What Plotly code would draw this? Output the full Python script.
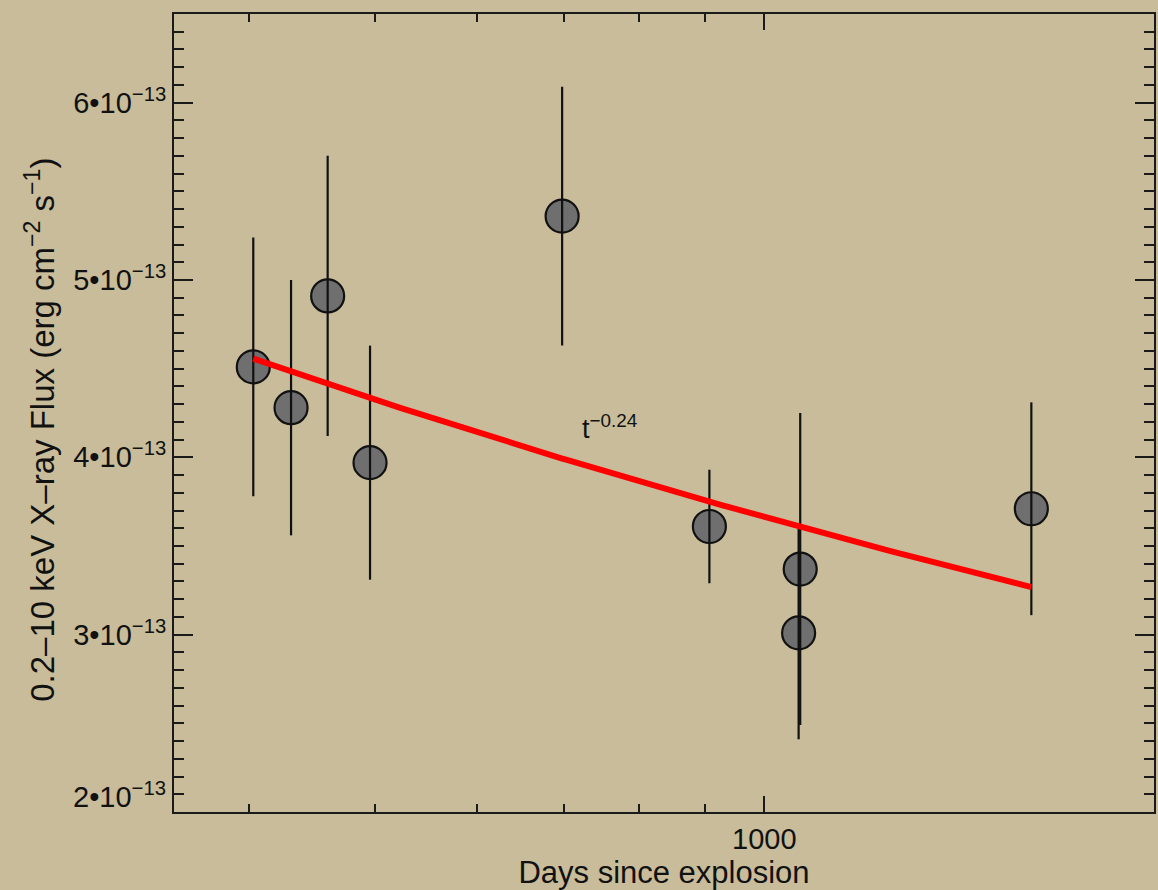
import numpy as np
import plotly.graph_objects as go

# Observations: days since explosion, 0.2-10 keV flux (units of 1e-13 erg/cm^2/s), 1-sigma errors
days = [403, 431, 460, 496, 698, 907, 1066, 1063, 1608]
flux_e13 = [4.51, 4.28, 4.91, 3.97, 5.36, 3.61, 3.37, 3.01, 3.71]
err_e13 = [0.73, 0.72, 0.79, 0.66, 0.73, 0.32, 0.88, 0.60, 0.60]

# Power-law decline fit F = NORM * t^INDEX
FIT_INDEX = -0.24
FIT_NORM = 1.9225e-12

y_tick_vals = [2e-13, 3e-13, 4e-13, 5e-13, 6e-13]
y_tick_text = ["", "3•10<sup>−13</sup>", "4•10<sup>−13</sup>", "5•10<sup>−13</sup>", "6•10<sup>−13</sup>"]
x_tick_vals = [1000]
x_tick_text = ["1000"]
x_minor_vals = [400, 500, 600, 700, 800, 900, 2000]

flux = [f * 1e-13 for f in flux_e13]
err = [e * 1e-13 for e in err_e13]

t_fit = np.geomspace(min(days), max(days), 200)
f_fit = FIT_NORM * t_fit ** FIT_INDEX

FONT = "Helvetica, 'Liberation Sans', Arial, sans-serif"
BG = "rgb(200,188,154)"
INK = "#111111"
AX = "#1a1a1a"

fig = go.Figure()

# filled circles
fig.add_trace(go.Scatter(
    x=days, y=flux, mode="markers",
    marker=dict(size=33, color="#6f6f6f", line=dict(color=INK, width=2.2)),
    showlegend=False, hoverinfo="skip",
))
# error bars drawn over the circles
fig.add_trace(go.Scatter(
    x=days, y=flux, mode="markers",
    marker=dict(size=1, color="rgba(0,0,0,0)"),
    error_y=dict(type="data", array=err, visible=True, color=INK, thickness=2.2, width=0),
    showlegend=False, hoverinfo="skip",
))
# power-law fit
fig.add_trace(go.Scatter(
    x=t_fit, y=f_fit, mode="lines",
    line=dict(color="#ff0000", width=6),
    showlegend=False, hoverinfo="skip",
))

fig.add_annotation(
    x=np.log10(760), y=4.17e-13, xref="x", yref="y",
    text="t<sup>−0.24</sup>", showarrow=False,
    font=dict(family=FONT, size=27, color=INK),
)
# bottom y label sits slightly above its tick
fig.add_annotation(
    x=0, y=2e-13, xref="paper", yref="y", xanchor="right", yanchor="middle",
    xshift=-6, yshift=17,
    text="2•10<sup>−13</sup>", showarrow=False,
    font=dict(family=FONT, size=29, color=INK),
)
# y-axis title, centred a little below the middle of the frame
fig.add_annotation(
    x=-0.1367, y=0.479, xref="paper", yref="paper", xanchor="center", yanchor="middle",
    textangle=-90,
    text="0.2–10 keV X–ray Flux (erg cm<sup>−2</sup> s<sup>−1</sup>)", showarrow=False,
    font=dict(family=FONT, size=33, color=INK),
)

axis_common = dict(
    showline=True, linecolor=AX, linewidth=2, mirror="allticks",
    ticks="inside", tickcolor=AX, tickwidth=1.6,
    showgrid=False, zeroline=False, automargin=False,
)

fig.update_xaxes(
    type="log", range=[np.log10(350), np.log10(2000)],
    tickvals=x_tick_vals, ticktext=x_tick_text, ticklen=16,
    minor=dict(tickvals=x_minor_vals, ticks="inside", ticklen=8, tickcolor=AX, tickwidth=1.6, showgrid=False),
    tickfont=dict(family=FONT, size=29, color=INK),
    title=dict(text="Days since explosion", font=dict(family=FONT, size=31, color=INK), standoff=1),
    **axis_common,
)
fig.update_yaxes(
    range=[2e-13, 6.5e-13],
    tickvals=y_tick_vals, ticktext=y_tick_text, ticklen=19,
    minor=dict(dtick=1e-14, tick0=0, ticks="inside", ticklen=10, tickcolor=AX, tickwidth=1.6, showgrid=False),
    tickfont=dict(family=FONT, size=29, color=INK),
    **axis_common,
)

fig.update_layout(
    template="none",
    width=1158, height=890,
    margin=dict(l=174, r=4, t=14, b=78),
    paper_bgcolor=BG, plot_bgcolor=BG,
)

fig.write_html("out.html")
